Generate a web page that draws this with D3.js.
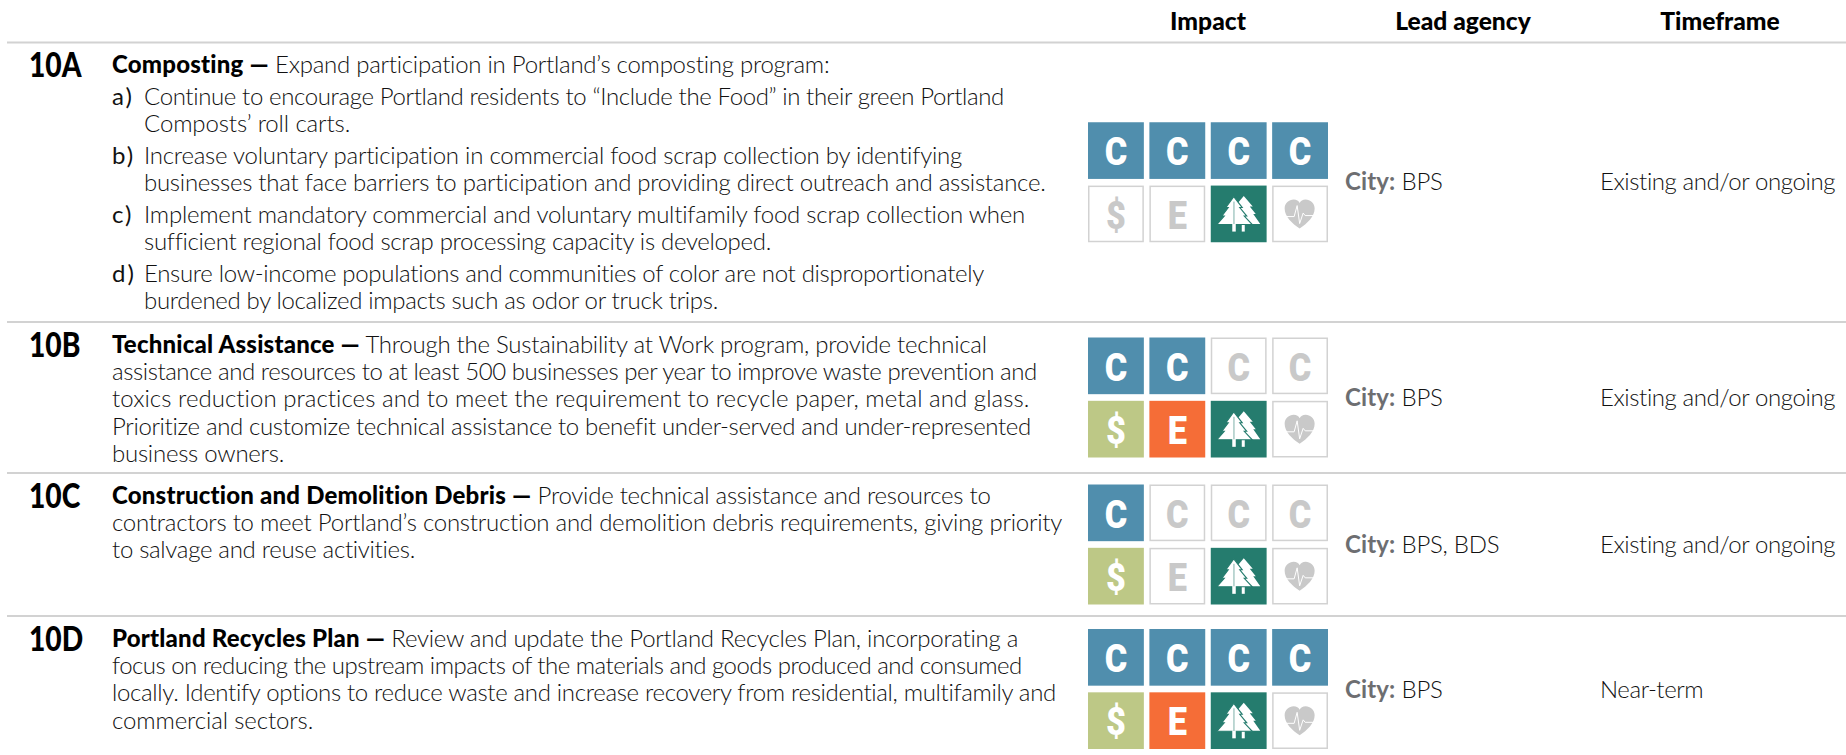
<!DOCTYPE html>
<html>
<head>
<meta charset="utf-8">
<script src="https://d3js.org/d3.v7.min.js"></script>
<style>
body {margin:0; background:#fff;}
text {font-family:Lato, sans-serif;}
.body {font-weight:300; font-size:24px; fill:#111; letter-spacing:-0.26px;}
.body .lead {font-weight:900; fill:#000; letter-spacing:0.2px;}
.item {font-weight:400; font-size:24px; fill:#111; letter-spacing:2px;}
.head {font-weight:900; font-size:24.6px; fill:#000; text-anchor:middle;}
.code {font-weight:900; font-size:34px; fill:#000;}
.glyph {font-family:Roboto, sans-serif; font-weight:900; text-anchor:middle;}
.body .city {font-weight:700; fill:#6d6e71; letter-spacing:0.1px;}
</style>
</head>
<body>
<script>
var headers = ['Impact', 'Lead agency', 'Timeframe'];
var codes = ['10A', '10B', '10C', '10D'];
var titles = ['Composting —', 'Technical Assistance —', 'Construction and Demolition Debris —', 'Portland Recycles Plan —'];
var firstLines = [
  'Expand participation in Portland’s composting program:',
  'Through the Sustainability at Work program, provide technical',
  'Provide technical assistance and resources to',
  'Review and update the Portland Recycles Plan, incorporating a'
];
var moreLines = [
  [],
  ['assistance and resources to at least 500 businesses per year to improve waste prevention and',
   'toxics reduction practices and to meet the requirement to recycle paper, metal and glass.',
   'Prioritize and customize technical assistance to benefit under-served and under-represented',
   'business owners.'],
  ['contractors to meet Portland’s construction and demolition debris requirements, giving priority',
   'to salvage and reuse activities.'],
  ['focus on reducing the upstream impacts of the materials and goods produced and consumed',
   'locally. Identify options to reduce waste and increase recovery from residential, multifamily and',
   'commercial sectors.']
];
var listLabels = ['a)', 'b)', 'c)', 'd)'];
var listLines = [
  ['Continue to encourage Portland residents to “Include the Food” in their green Portland', 'Composts’ roll carts.'],
  ['Increase voluntary participation in commercial food scrap collection by identifying', 'businesses that face barriers to participation and providing direct outreach and assistance.'],
  ['Implement mandatory commercial and voluntary multifamily food scrap collection when', 'sufficient regional food scrap processing capacity is developed.'],
  ['Ensure low-income populations and communities of color are not disproportionately', 'burdened by localized impacts such as odor or truck trips.']
];
var agencies = ['BPS', 'BPS', 'BPS, BDS', 'BPS'];
var timeframes = ['Existing and/or ongoing', 'Existing and/or ongoing', 'Existing and/or ongoing', 'Near-term'];

// impact scores per row
var carbon = [4, 2, 1, 4];
var dollars = [0, 1, 1, 1];
var equity = [0, 1, 0, 1];
var nature = [1, 1, 1, 1];
var health = [0, 0, 0, 0];

var colors = {carbon:'#508ead', dollar:'#bdc886', equity:'#f56d37', nature:'#257c6e', off:'#c9c9c9', line:'#d2d2d2'};

// where each wrapped line ends in the original (it was justified by hand, fonts differ)
var moreEnds = [[], [1037, 1029, 1031, 284], [1062, 415], [1022, 1056, 313]];
var listEnds = [[1004, 350], [962, 1045.5], [1025, 771], [984, 718]];

var W = 1846, H = 755;
var svg = d3.select('body').append('svg').attr('width', W).attr('height', H).style('display', 'block');

var edges = [42.5, 322, 473, 616, 762];
var tileX = d3.scaleBand().domain([0,1,2,3]).range([1088,1328]).paddingInner(0.09);
var tileY = d3.scaleBand().domain([0,1]).range([0,120]).paddingInner(0.105);

// header
svg.selectAll('.head').data(headers).enter().append('text')
  .attr('class', 'head')
  .attr('x', function(d, i){ return [1208, 1463, 1720][i]; })
  .attr('y', 30)
  .text(function(d){ return d; });

// rules
svg.selectAll('.rule').data(edges.slice(0, 4)).enter().append('line')
  .attr('x1', 7).attr('x2', W)
  .attr('y1', function(d){ return d; }).attr('y2', function(d){ return d; })
  .attr('stroke', colors.line).attr('stroke-width', 2);

var L = 27.2, gap = 4.6;

function drawLine(g, x, y, str, end) {
  var t = g.append('text').attr('class', 'body').attr('x', x).attr('y', y).text(str);
  if (end) t.attr('textLength', end - x).attr('lengthAdjust', 'spacing');
  return t;
}

codes.forEach(function(code, r) {
  var top = edges[r], base = top + 30.3 + (r ? 0.7 : 0);
  var g = svg.append('g');

  g.append('text').attr('class', 'code')
    .attr('transform', 'translate(29,' + (base + 4) + ') scale(0.83,1)')
    .text(code);

  var first = g.append('text').attr('class', 'body').attr('x', 112).attr('y', base);
  first.append('tspan').attr('class', 'lead').text(titles[r]);
  first.append('tspan').text(' ' + firstLines[r]);

  moreLines[r].forEach(function(s, i) { drawLine(g, 112, base + L * (i + 1), s, moreEnds[r][i]); });

  if (r === 0) {
    var y = base;
    listLines.forEach(function(pair, k) {
      y += L + gap;
      g.append('text').attr('class', 'item').attr('x', 112).attr('y', y).text(listLabels[k]);
      pair.forEach(function(s, i) { drawLine(g, 144, y + L * i, s, listEnds[k][i]); });
      y += L * (pair.length - 1);
    });
  }

  var mid = (edges[r] + edges[r + 1]) / 2;
  drawTiles(r, mid - 60);

  var textY = mid + 8 + (r ? 0.7 : 0);
  var a = g.append('text').attr('class', 'body').attr('x', 1345).attr('y', textY);
  a.append('tspan').attr('class', 'city').text('City:');
  a.append('tspan').text(' ' + agencies[r]);
  drawLine(g, 1600, textY, timeframes[r]).style('letter-spacing', '-0.41px');
});

function drawTiles(r, top) {
  var tiles = [];
  d3.range(4).forEach(function(i) {
    tiles.push({col:i, row:0, kind:'C', on:i < carbon[r], color:colors.carbon});
  });
  tiles.push({col:0, row:1, kind:'$', on:dollars[r] > 0, color:colors.dollar});
  tiles.push({col:1, row:1, kind:'E', on:equity[r] > 0, color:colors.equity});
  tiles.push({col:2, row:1, kind:'tree', on:nature[r] > 0, color:colors.nature});
  tiles.push({col:3, row:1, kind:'heart', on:health[r] > 0, color:colors.off});

  var t = svg.append('g').attr('transform', 'translate(0,' + top + ')')
    .selectAll('g').data(tiles).enter().append('g')
    .attr('transform', function(d){ return 'translate(' + tileX(d.col) + ',' + tileY(d.row) + ')'; });

  t.append('rect')
    .attr('x', function(d){ return d.on ? 0 : 0.75; })
    .attr('y', function(d){ return d.on ? 0 : 0.75; })
    .attr('width', function(d){ return tileX.bandwidth() - (d.on ? 0 : 1.5); })
    .attr('height', function(d){ return tileY.bandwidth() - (d.on ? 0 : 1.5); })
    .attr('fill', function(d){ return d.on ? d.color : '#fff'; })
    .attr('stroke', function(d){ return d.on ? 'none' : colors.line; })
    .attr('stroke-width', 1.5);

  t.filter(function(d){ return d.kind.length === 1; }).append('text')
    .attr('class', 'glyph')
    .attr('transform', function(d){ return 'translate(' + (tileX.bandwidth()/2) + ',43) scale(0.88,1)'; })
    .attr('font-size', 39)
    .attr('fill', function(d){ return d.on ? '#fff' : colors.off; })
    .text(function(d){ return d.kind; });

  t.filter(function(d){ return d.kind === 'tree'; }).each(function(d){ drawTree(d3.select(this), d); });
  t.filter(function(d){ return d.kind === 'heart'; }).each(function(d){ drawHeart(d3.select(this)); });
}

function drawTree(g, d) {
  var ink = d.on ? '#fff' : colors.off, bg = d.on ? d.color : '#fff';
  g.append('path').attr('fill', ink)
    .attr('d', 'M33,10.5 L42,21 H39 L45,28.5 H42.5 L49.5,38.5 H29 L25,20 Z');
  g.append('rect').attr('x', 31).attr('y', 38).attr('width', 3).attr('height', 8).attr('fill', ink);
  g.append('path').attr('fill', ink).attr('stroke', bg).attr('stroke-width', 1.1)
    .attr('d', 'M23,11 L31.5,22 H29 L36,30.5 H33.5 L41.5,39 H6 L13.5,30.5 H11 L17.5,22 H15 Z');
  g.append('rect').attr('x', 21.5).attr('y', 38).attr('width', 3.5).attr('height', 8).attr('fill', ink);
  g.append('line').attr('x1', 23.2).attr('x2', 23.2).attr('y1', 16).attr('y2', 38.5)
    .attr('stroke', bg).attr('stroke-width', 0.6);
}

function drawHeart(g) {
  g.append('path').attr('fill', colors.off)
    .attr('d', 'M27.5,43 C20,38 12.5,31 12.5,23 C12.5,17.5 17,14 21.5,14 C24.5,14 26.5,15.5 27.5,17.5 C28.5,15.5 30.5,14 33.5,14 C38,14 42.5,17.5 42.5,23 C42.5,31 35,38 27.5,43 Z');
  g.append('path').attr('fill', 'none').attr('stroke', '#fff').attr('stroke-width', 1)
    .attr('d', 'M12.5,31 H22 L25,20 L27.5,38 L31,27.5 L33,30 H42.5');
}
</script>
</body>
</html>
